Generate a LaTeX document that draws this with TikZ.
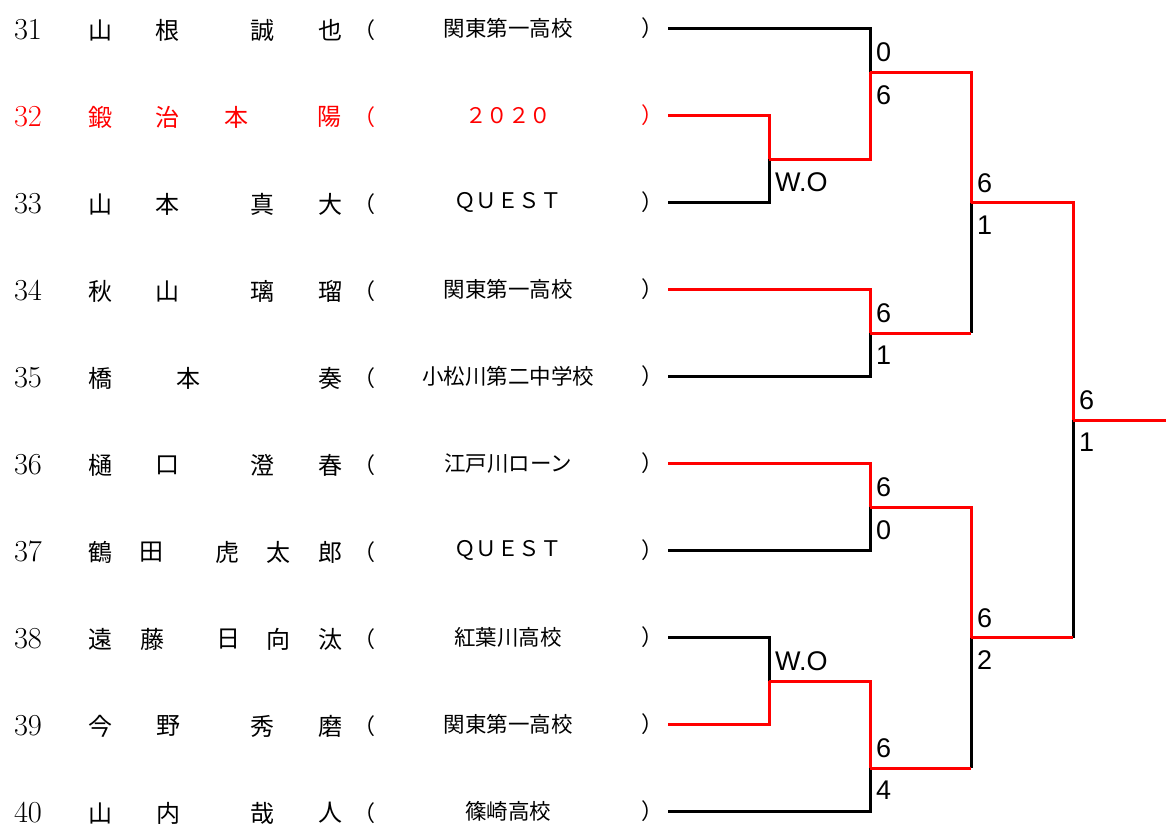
\documentclass[tikz,border=0pt]{standalone}
\usepackage{fontspec}
\usepackage{xcolor}
\usepackage{tikz}
\usetikzlibrary{positioning}
\newfontfamily\jpfont{Noto Sans CJK JP}
\newfontfamily\scorefont{Liberation Sans}
\definecolor{WinRed}{HTML}{FF0000}

\begin{document}
\begin{tikzpicture}[
    x=1pt, y=-1pt,
    num/.style={inner sep=0pt, font=\fontsize{30.5}{32}\selectfont},
    kan/.style={inner sep=0pt, font=\jpfont\fontsize{24}{26}\selectfont},
    school/.style={inner sep=0pt, font=\jpfont\fontsize{21.5}{24}\selectfont},
    paren/.style={inner sep=0pt, font=\jpfont\fontsize{22}{24}\selectfont},
    score/.style={inner sep=2pt, font=\scorefont\fontsize{27}{28}\selectfont},
    lose/.style={draw=black, line width=3pt},
    win/.style={draw=WinRed, line width=3pt}
  ]
  \useasboundingbox (0,0) rectangle (1166,825);

  % entries: number / row / name characters at x / school / colour
  \foreach \n/\y/\chars/\sch/\col in {
      31/28.5/{山/100,根/167,誠/262,也/330}/関東第一高校/black,
      32/115.5/{鍛/100,治/167,本/236,陽/329}/２０２０/WinRed,
      33/202.5/{山/100,本/167,真/262,大/330}/ＱＵＥＳＴ/black,
      34/289.5/{秋/100,山/167,璃/262,瑠/330}/関東第一高校/black,
      35/376.5/{橋/100,本/188,奏/330}/小松川第二中学校/black,
      36/463.5/{樋/100,口/167,澄/262,春/330}/江戸川ローン/black,
      37/550.5/{鶴/100,田/151,虎/227,太/278,郎/330}/ＱＵＥＳＴ/black,
      38/637.5/{遠/100,藤/152,日/228,向/278,汰/330}/紅葉川高校/black,
      39/724.5/{今/100,野/168,秀/262,磨/330}/関東第一高校/black,
      40/811.5/{山/100,内/168,哉/262,人/330}/篠崎高校/black}{
    \node[num, text=\col] (n\n) at (28,\y+1) {\n};
    \foreach \ch/\cx [count=\i] in \chars
      \node[kan, text=\col] (c\n-\i) at (\cx,\y+1.5) {\ch};
    \node[paren, text=\col] (l\n) at (364,\y+1.5) {（};
    \node[school, text=\col] (s\n) at (508,\y) {\sch};
    \node[paren, text=\col] (r\n) at (652,\y) {）};
    \coordinate (e\n) at (668,\y);
  }

  % match points
  \coordinate (mA) at (769,159);
  \coordinate (mB) at (870,72);
  \coordinate (mC) at (870,333);
  \coordinate (mD) at (971,202.5);
  \coordinate (mE) at (870,507);
  \coordinate (mF) at (769,681);
  \coordinate (mG) at (870,768);
  \coordinate (mH) at (971,637.5);
  \coordinate (mI) at (1073,420);
  \coordinate (champ) at (1166,420);

  % lost
  \draw[lose] (e31) -| (mB);
  \draw[lose] (e33) -| (mA);
  \draw[lose] (e35) -| (mC);
  \draw[lose] (e37) -| (mE);
  \draw[lose] (e38) -| (mF);
  \draw[lose] (e40) -| (mG);
  \draw[lose] (mC -| mD) -- (mD);
  \draw[lose] (mG -| mH) -- (mH);
  \draw[lose] (mH -| mI) -- (mI);

  % won
  \draw[win] (e32) -| (mA);
  \draw[win] (mA) -| (mB);
  \draw[win] (mB) -| (mD);
  \draw[win] (e34) -| (mC);
  \draw[win] (mC) -- (mC -| mD);
  \draw[win] (mD) -| (mI);
  \draw[win] (e36) -| (mE);
  \draw[win] (mE) -| (mH);
  \draw[win] (e39) -| (mF);
  \draw[win] (mF) -| (mG);
  \draw[win] (mG) -- (mG -| mH);
  \draw[win] (mH) -- (mH -| mI);
  \draw[win] (mI) -- (champ);

  % scores
  \node[score, above right=8pt and 4pt of mB] (tB) {0};
  \node[score, below right=11pt and 4pt of mB] (bB) {6};
  \node[score, below right=11pt and 4pt of mA] (bA) {W.O};
  \node[score, above right=8pt and 4pt of mC] (tC) {6};
  \node[score, below right=11pt and 4pt of mC] (bC) {1};
  \node[score, above right=8pt and 4pt of mD] (tD) {6};
  \node[score, below right=11pt and 4pt of mD] (bD) {1};
  \node[score, above right=8pt and 4pt of mE] (tE) {6};
  \node[score, below right=11pt and 4pt of mE] (bE) {0};
  \node[score, above right=8pt and 4pt of mF] (tF) {W.O};
  \node[score, above right=8pt and 4pt of mG] (tG) {6};
  \node[score, below right=11pt and 4pt of mG] (bG) {4};
  \node[score, above right=8pt and 4pt of mH] (tH) {6};
  \node[score, below right=11pt and 4pt of mH] (bH) {2};
  \node[score, above right=8pt and 4pt of mI] (tI) {6};
  \node[score, below right=11pt and 4pt of mI] (bI) {1};
\end{tikzpicture}
\end{document}
